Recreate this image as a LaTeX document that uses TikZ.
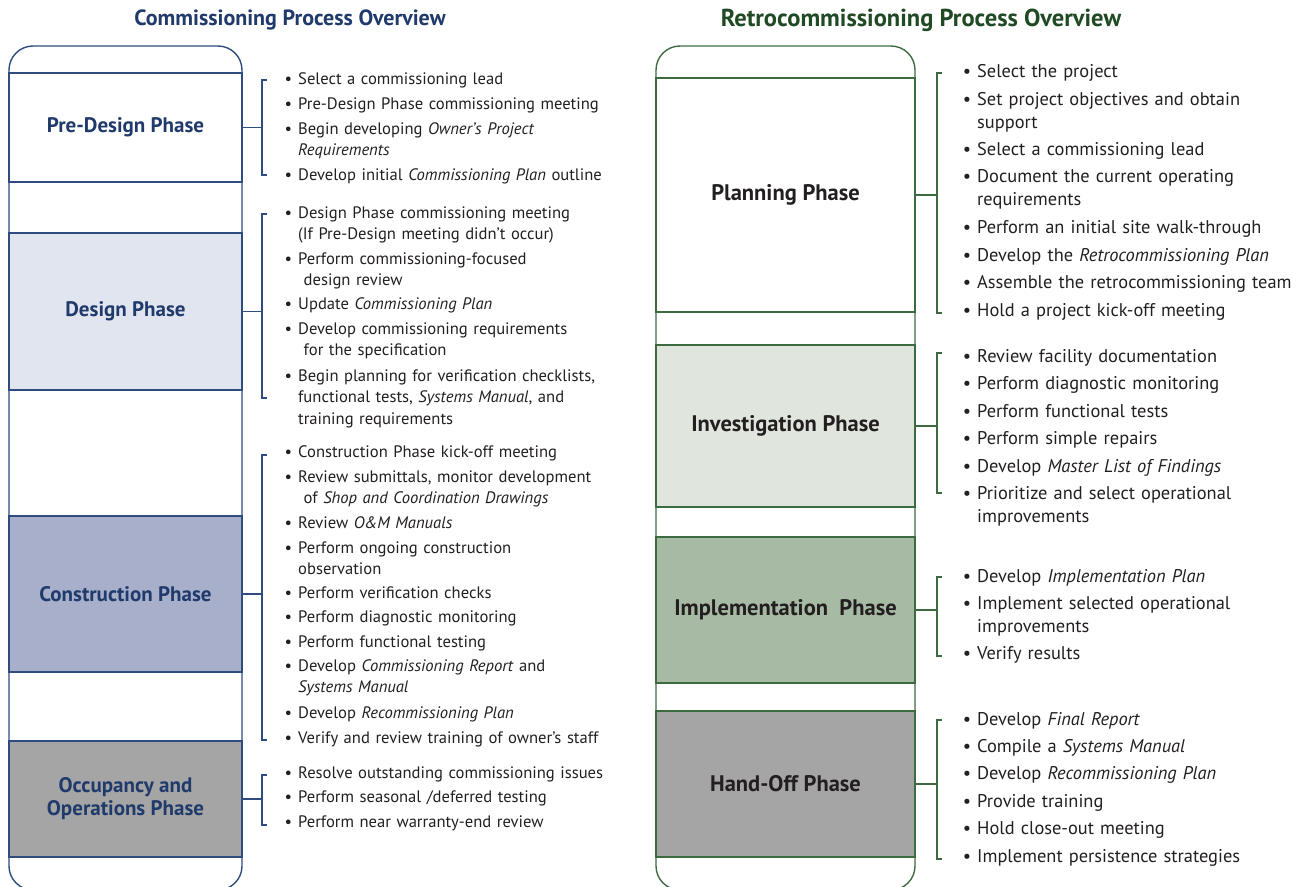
\documentclass[tikz,border=0pt]{standalone}
\usepackage{fontspec}
\setmainfont{PT Sans}
\usetikzlibrary{positioning}

\definecolor{cxnavy}{HTML}{1F3A6B}
\definecolor{cxline}{HTML}{2E4C7E}
\definecolor{cxdesign}{HTML}{E1E5EF}
\definecolor{cxbuild}{HTML}{A8AFCA}
\definecolor{cxgray}{HTML}{A5A5A5}
\definecolor{rcxgreen}{HTML}{1F4A24}
\definecolor{rcxline}{HTML}{3D6B41}
\definecolor{rcxinvest}{HTML}{E0E6DD}
\definecolor{rcximpl}{HTML}{A7BBA4}
\definecolor{ink}{HTML}{231F20}

\newcommand{\bu}{\makebox[0pt][r]{\textbullet\hspace{6pt}}}

\tikzset{
  cxbox/.style={draw=cxline, line width=1.4pt, minimum width=233pt, inner sep=0pt,
    text=cxnavy, font=\fontsize{21}{23}\selectfont\bfseries, align=center},
  rcxbox/.style={draw=rcxline, line width=1.4pt, minimum width=259pt, inner sep=0pt,
    text=ink, font=\fontsize{22.5}{25}\selectfont\bfseries},
  cxitem/.style={anchor=base west, text width=320pt, align=left, inner sep=0pt,
    text=ink, font=\fontsize{16.6}{21.5}\selectfont},
  rcxitem/.style={anchor=base west, text width=320pt, align=left, inner sep=0pt,
    text=ink, font=\fontsize{18.4}{23}\selectfont},
  cxbrk/.style={draw=cxline, line width=1.2pt},
  rcxbrk/.style={draw=rcxline, line width=1.2pt},
}

\begin{document}
\begin{tikzpicture}[x=1pt,y=-1pt]
  \useasboundingbox (0,0) rectangle (1303,886);

  % titles
  \node[font=\fontsize{22}{24}\selectfont\bfseries, text=cxnavy] (cxtitle) at (290,20) {Commissioning Process Overview};
  \node[font=\fontsize{24.5}{26}\selectfont\bfseries, text=rcxgreen] (rcxtitle) at (921,20) {Retrocommissioning Process Overview};

  % columns
  \draw[cxline, line width=1.4pt, rounded corners=24pt] (9,890) -- (9,46) -- (242,46) -- (242,890) -- cycle;
  \draw[rcxline, line width=1.4pt, rounded corners=24pt] (656,890) -- (656,46) -- (915,46) -- (915,890) -- cycle;

  % commissioning phases
  \node[cxbox, minimum height=109pt] (predesign) at (125.5,127.5) {Pre-Design Phase};
  \node[cxbox, fill=cxdesign, minimum height=157pt] (design) at (125.5,311.5) {Design Phase};
  \node[cxbox, fill=cxbuild, minimum height=156pt] (construction) at (125.5,594) {Construction Phase};
  \node[cxbox, fill=cxgray, minimum height=116pt] (occupancy) at (125.5,799) {Occupancy and\\Operations Phase};

  % retrocommissioning phases
  \node[rcxbox, minimum height=234pt] (planning) at (785.5,195) {Planning Phase};
  \node[rcxbox, fill=rcxinvest, minimum height=162pt] (investigation) at (785.5,426) {Investigation Phase};
  \node[rcxbox, fill=rcximpl, minimum height=146pt] (implementation) at (785.5,610) {Implementation\ \ Phase};
  \node[rcxbox, fill=cxgray, minimum height=146pt] (handoff) at (785.5,784) {Hand-Off Phase};

  % brackets, left
  \coordinate (pdt) at (262,80);  \coordinate (pdb) at (262,175);
  \coordinate (dst) at (262,214); \coordinate (dsb) at (262,398);
  \coordinate (cnt) at (262,455); \coordinate (cnb) at (262,740);
  \coordinate (oct) at (262,775); \coordinate (ocb) at (262,825);
  \draw[cxbrk] ([xshift=5pt]pdt) -- (pdt) -- (pdb) -- ([xshift=5pt]pdb);
  \draw[cxbrk] ([xshift=5pt]dst) -- (dst) -- (dsb) -- ([xshift=5pt]dsb);
  \draw[cxbrk] ([xshift=5pt]cnt) -- (cnt) -- (cnb) -- ([xshift=5pt]cnb);
  \draw[cxbrk] ([xshift=5pt]oct) -- (oct) -- (ocb) -- ([xshift=5pt]ocb);
  \draw[cxbrk] (predesign.east) -- (predesign.east -| pdt);
  \draw[cxbrk] (design.east) -- (design.east -| dst);
  \draw[cxbrk] (construction.east) -- (construction.east -| cnt);
  \draw[cxbrk] (occupancy.east) -- (occupancy.east -| oct);

  % brackets, right
  \coordinate (plt) at (937,73);  \coordinate (plb) at (937,313);
  \coordinate (ivt) at (937,353); \coordinate (ivb) at (937,493);
  \coordinate (imt) at (937,577); \coordinate (imb) at (937,656);
  \coordinate (hot) at (937,720); \coordinate (hob) at (937,859);
  \draw[rcxbrk] ([xshift=5pt]plt) -- (plt) -- (plb) -- ([xshift=5pt]plb);
  \draw[rcxbrk] ([xshift=5pt]ivt) -- (ivt) -- (ivb) -- ([xshift=5pt]ivb);
  \draw[rcxbrk] ([xshift=5pt]imt) -- (imt) -- (imb) -- ([xshift=5pt]imb);
  \draw[rcxbrk] ([xshift=5pt]hot) -- (hot) -- (hob) -- ([xshift=5pt]hob);
  \draw[rcxbrk] (planning.east) -- (planning.east -| plt);
  \draw[rcxbrk] (investigation.east) -- (investigation.east -| ivt);
  \draw[rcxbrk] (implementation.east) -- (implementation.east -| imt);
  \draw[rcxbrk] (handoff.east) -- (handoff.east -| hot);

  % pre-design tasks
  \node[cxitem] (pd1) at (298,84) {\bu Select a commissioning lead};
  \node[cxitem] (pd2) at (298,109) {\bu Pre-Design Phase commissioning meeting};
  \node[cxitem] (pd3) at (298,134) {\bu Begin developing \emph{Owner's Project}\\\emph{Requirements}};
  \node[cxitem] (pd4) at (298,180) {\bu Develop initial \emph{Commissioning Plan} outline};

  % design tasks
  \node[cxitem] (ds1) at (298,218) {\bu Design Phase commissioning meeting\\(If Pre-Design meeting didn't occur)};
  \node[cxitem] (ds2) at (298,264) {\bu Perform commissioning-focused\\\ design review};
  \node[cxitem] (ds3) at (298,309) {\bu Update \emph{Commissioning Plan}};
  \node[cxitem] (ds4) at (298,334) {\bu Develop commissioning requirements\\\ for the specification};
  \node[cxitem] (ds5) at (298,381) {\bu Begin planning for verification checklists,\\functional tests, \emph{Systems Manual}, and\\training requirements};

  % construction tasks
  \node[cxitem] (cn1) at (298,457) {\bu Construction Phase kick-off meeting};
  \node[cxitem] (cn2) at (298,482) {\bu Review submittals, monitor development\\\ of \emph{Shop and Coordination Drawings}};
  \node[cxitem] (cn3) at (298,528) {\bu Review \emph{O\&M Manuals}};
  \node[cxitem] (cn4) at (298,553) {\bu Perform ongoing construction\\observation};
  \node[cxitem] (cn5) at (298,598) {\bu Perform verification checks};
  \node[cxitem] (cn6) at (298,622) {\bu Perform diagnostic monitoring};
  \node[cxitem] (cn7) at (298,647) {\bu Perform functional testing};
  \node[cxitem] (cn8) at (298,671) {\bu Develop \emph{Commissioning Report} and\\\emph{Systems Manual}};
  \node[cxitem] (cn9) at (298,718) {\bu Develop \emph{Recommissioning Plan}};
  \node[cxitem] (cn10) at (298,743) {\bu Verify and review training of owner's staff};

  % occupancy tasks
  \node[cxitem] (oc1) at (298,778) {\bu Resolve outstanding commissioning issues};
  \node[cxitem] (oc2) at (298,802) {\bu Perform seasonal /deferred testing};
  \node[cxitem] (oc3) at (298,827) {\bu Perform near warranty-end review};

  % planning tasks
  \node[rcxitem] (pl1) at (977,77) {\bu Select the project};
  \node[rcxitem] (pl2) at (977,105) {\bu Set project objectives and obtain\\support};
  \node[rcxitem] (pl3) at (977,155) {\bu Select a commissioning lead};
  \node[rcxitem] (pl4) at (977,182) {\bu Document the current operating\\requirements};
  \node[rcxitem] (pl5) at (977,233) {\bu Perform an initial site walk-through};
  \node[rcxitem] (pl6) at (977,261) {\bu Develop the \emph{Retrocommissioning Plan}};
  \node[rcxitem] (pl7) at (977,288) {\bu Assemble the retrocommissioning team};
  \node[rcxitem] (pl8) at (977,316) {\bu Hold a project kick-off meeting};

  % investigation tasks
  \node[rcxitem] (iv1) at (977,362) {\bu Review facility documentation};
  \node[rcxitem] (iv2) at (977,389) {\bu Perform diagnostic monitoring};
  \node[rcxitem] (iv3) at (977,417) {\bu Perform functional tests};
  \node[rcxitem] (iv4) at (977,444) {\bu Perform simple repairs};
  \node[rcxitem] (iv5) at (977,472) {\bu Develop \emph{Master List of Findings}};
  \node[rcxitem] (iv6) at (977,499) {\bu Prioritize and select operational\\improvements};

  % implementation tasks
  \node[rcxitem] (im1) at (977,582) {\bu Develop \emph{Implementation Plan}};
  \node[rcxitem] (im2) at (977,609) {\bu Implement selected operational\\improvements};
  \node[rcxitem] (im3) at (977,659) {\bu Verify results};

  % hand-off tasks
  \node[rcxitem] (ho1) at (977,725) {\bu Develop \emph{Final Report}};
  \node[rcxitem] (ho2) at (977,752) {\bu Compile a \emph{Systems Manual}};
  \node[rcxitem] (ho3) at (977,779) {\bu Develop \emph{Recommissioning Plan}};
  \node[rcxitem] (ho4) at (977,807) {\bu Provide training};
  \node[rcxitem] (ho5) at (977,834) {\bu Hold close-out meeting};
  \node[rcxitem] (ho6) at (977,862) {\bu Implement persistence strategies};
\end{tikzpicture}
\end{document}
